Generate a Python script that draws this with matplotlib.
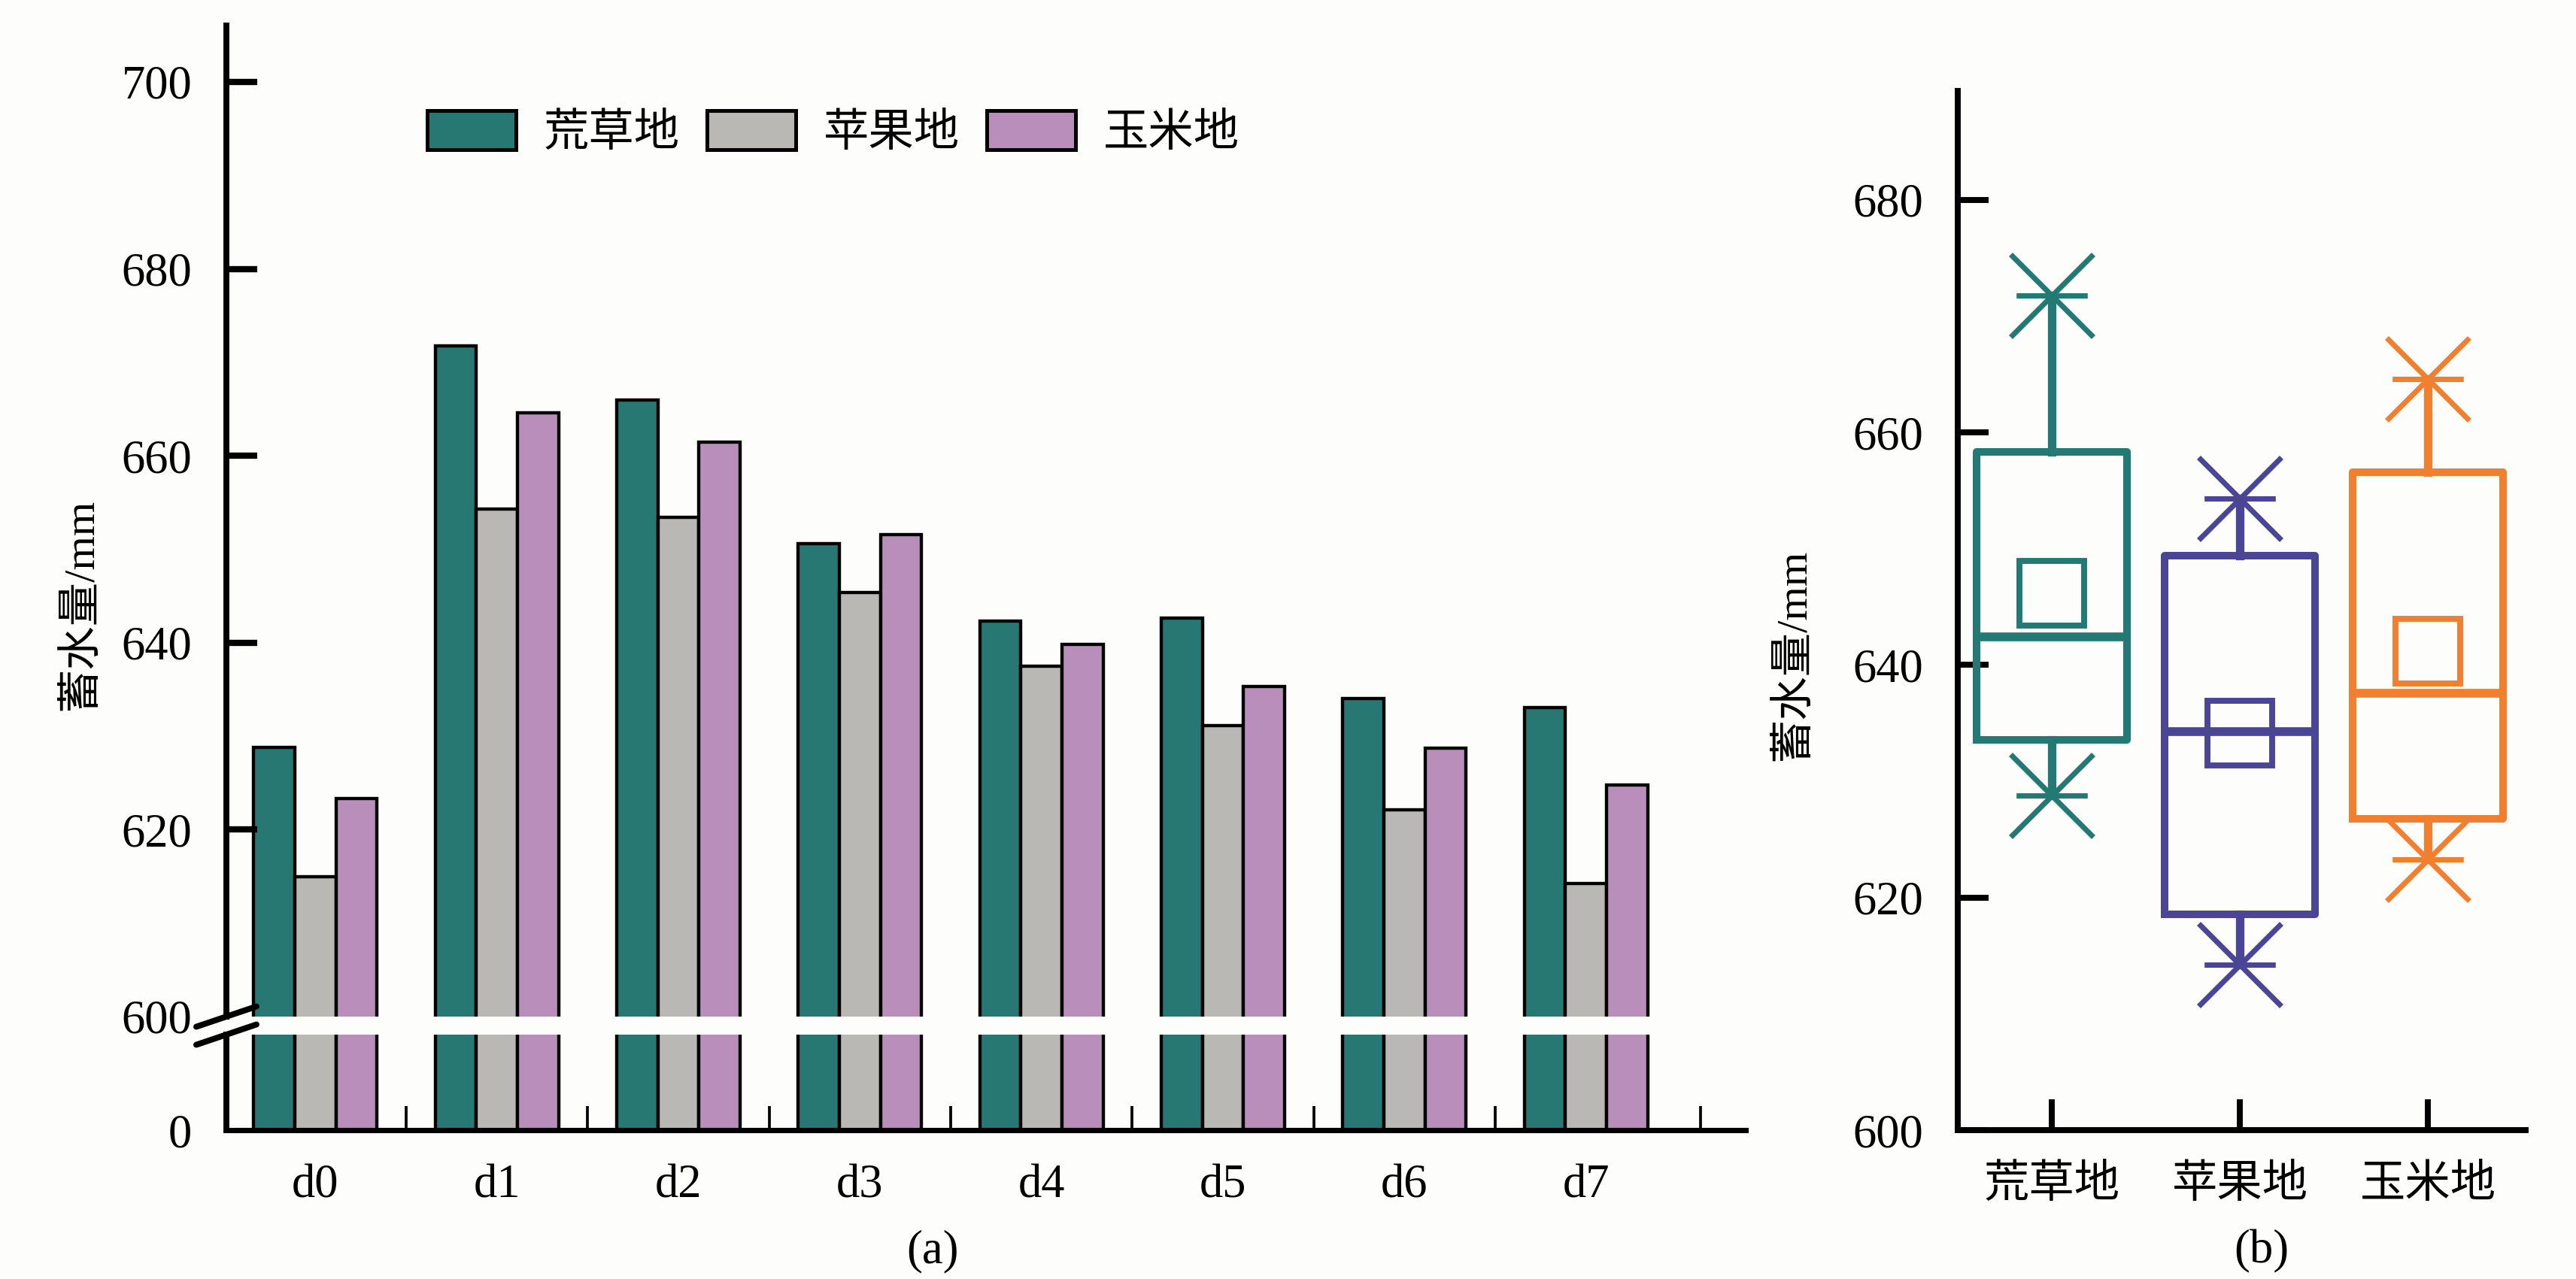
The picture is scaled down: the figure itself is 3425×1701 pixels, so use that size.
import numpy as np
import matplotlib
matplotlib.use('Agg')
import matplotlib.pyplot as plt
from matplotlib.path import Path

plt.rcParams['font.family'] = ['Liberation Serif', 'Noto Sans CJK SC']
plt.rcParams['axes.unicode_minus'] = False

# bar data (mm)
days = ['d0', 'd1', 'd2', 'd3', 'd4', 'd5', 'd6', 'd7']
grass = [628.8, 671.8, 666.0, 650.6, 642.3, 642.6, 634.0, 633.1]
apple = [615.0, 654.3, 653.4, 645.4, 637.5, 631.1, 622.1, 614.2]
corn = [623.3, 664.6, 661.5, 651.6, 639.8, 635.3, 628.7, 624.8]
land_names = ['荒草地', '苹果地', '玉米地']

bar_colors = ['#277872', '#bab8b5', '#b98ebb']
box_colors = ['#237a74', '#4b4596', '#f07f30']

W, H = 3425, 1701
fig = plt.figure(figsize=(W / 300, H / 300), dpi=300, facecolor='#fdfdfb')


def px_box(x0, y0, x1, y1):
    # pixel box (top-left origin) -> figure fraction rect
    return [x0 / W, 1 - y1 / H, (x1 - x0) / W, (y1 - y0) / H]


ax_top = fig.add_axes(px_box(301, 34.4, 2321, 1352))
ax_bot = fig.add_axes(px_box(301, 1376, 2321, 1503))
ax_box = fig.add_axes(px_box(2603, 120.5, 3358, 1503))
for ax in (ax_top, ax_bot, ax_box):
    ax.set_facecolor('none')

# ---- (a) grouped bars on a broken axis ----
x = np.arange(len(days))
bw = 0.2265
for ax in (ax_top, ax_bot):
    for i, (vals, name, c) in enumerate(zip([grass, apple, corn], land_names, bar_colors)):
        ax.bar(x + (i - 1) * bw, vals, bw, color=c, edgecolor='black',
               linewidth=1.05, label=name)
    ax.set_xlim(-0.49, 7.88)
    ax.spines['top'].set_visible(False)
    ax.spines['right'].set_visible(False)
    ax.spines['left'].set_linewidth(1.9)
    ax.spines['bottom'].set_linewidth(1.7)

ax_top.set_ylim(600, 706)
ax_bot.set_ylim(0, 10)
ax_top.spines['bottom'].set_visible(False)

ax_top.set_yticks([620, 640, 660, 680, 700])
ax_top.set_yticks([600], ['600'], minor=True)
ax_top.tick_params(axis='y', which='major', direction='in', length=9.8, width=2.0,
                   labelsize=15, pad=11)
ax_top.tick_params(axis='y', which='minor', length=0, labelsize=15, pad=11)
ax_top.tick_params(axis='x', which='both', bottom=False, labelbottom=False)

ax_bot.set_yticks([0])
ax_bot.tick_params(axis='y', length=0, labelsize=15, pad=11)
ax_bot.set_xticks(x, days)
ax_bot.set_xticks([0.5, 1.5, 2.5, 3.5, 4.5, 5.5, 6.5, 7.63], minor=True)
ax_bot.tick_params(axis='x', which='major', length=0, labelsize=15, pad=11)
ax_bot.tick_params(axis='x', which='minor', direction='in', length=7.7, width=0.9)

# break marks
d = 40 / 2020
kw = dict(color='black', lw=1.9, clip_on=False, solid_capstyle='round')
ax_top.plot([-d, d], [-13.5 / 1317.6, 13.5 / 1317.6], transform=ax_top.transAxes, **kw)
ax_bot.plot([-d, d], [1 - 13.5 / 127, 1 + 13.5 / 127], transform=ax_bot.transAxes, **kw)

leg = ax_top.legend(loc='center left', bbox_to_anchor=((568 - 301) / 2020, 0.892),
                    ncol=3, frameon=False, fontsize=14.5, borderpad=0, borderaxespad=0,
                    handlelength=1.95, handleheight=0.94, handletextpad=0.61,
                    columnspacing=0.6)
for p in leg.get_patches():
    p.set_linewidth(1.2)

# ---- (b) box plot of the same series ----
stats = []
for vals, name in zip([grass, apple, corn], land_names):
    v = np.array(vals)
    stats.append(dict(label=name, med=np.median(v),
                      q1=np.percentile(v, 25, method='midpoint'),
                      q3=np.percentile(v, 75, method='midpoint'),
                      whislo=v.min(), whishi=v.max(), mean=v.mean(),
                      fliers=[v.min(), v.max()]))

star = Path([(-0.5, -0.5), (0.5, 0.5), (-0.5, 0.5), (0.5, -0.5), (-0.43, 0), (0.43, 0)],
            [Path.MOVETO, Path.LINETO, Path.MOVETO, Path.LINETO, Path.MOVETO, Path.LINETO])

res = ax_box.bxp(stats, positions=[1, 2, 3], widths=0.8, showmeans=True,
                 showcaps=False, showfliers=True,
                 boxprops=dict(linewidth=2.4),
                 whiskerprops=dict(linewidth=2.7),
                 medianprops=dict(linewidth=2.8),
                 meanprops=dict(marker='s', markersize=20.5, markerfacecolor='none',
                                markeredgewidth=1.9),
                 flierprops=dict(marker=star, markersize=26.4, markerfacecolor='none',
                                 markeredgewidth=1.7))
for i, c in enumerate(box_colors):
    res['boxes'][i].set_color(c)
    res['whiskers'][2 * i].set_color(c)
    res['whiskers'][2 * i + 1].set_color(c)
    res['medians'][i].set_color(c)
    res['means'][i].set_markeredgecolor(c)
    res['fliers'][i].set_markeredgecolor(c)
    res['fliers'][i].set_clip_on(False)

ax_box.set_ylim(600, 689.4)
ax_box.set_xlim(0.5, 3.52)
ax_box.set_yticks([600, 620, 640, 660, 680])
ax_box.spines['top'].set_visible(False)
ax_box.spines['right'].set_visible(False)
ax_box.spines['left'].set_linewidth(1.9)
ax_box.spines['bottom'].set_linewidth(1.9)
ax_box.tick_params(axis='both', direction='in', length=9.8, width=1.9, pad=11)
ax_box.tick_params(axis='y', labelsize=15)
ax_box.tick_params(axis='x', labelsize=14.5)

# axis titles and panel marks
fig.text(107 / W, 1 - 804 / H, '蓄水量/mm', rotation=90, ha='center', va='center',
         fontsize=14)
fig.text(2384 / W, 1 - 871 / H, '蓄水量/mm', rotation=90, ha='center', va='center',
         fontsize=14)
fig.text(1240 / W, 1 - 1664 / H, '(a)', ha='center', va='center', fontsize=15)
fig.text(3007 / W, 1 - 1664 / H, '(b)', ha='center', va='center', fontsize=15)

fig.savefig('out.png', dpi=300, facecolor=fig.get_facecolor())
